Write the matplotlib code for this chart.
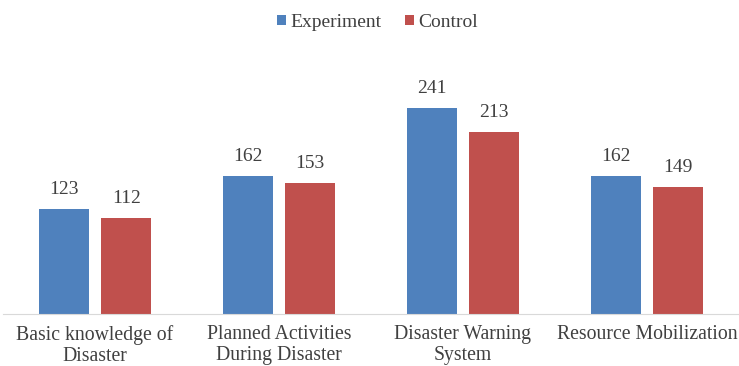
import numpy as np
import matplotlib.pyplot as plt

categories = ['Basic knowledge of\nDisaster', 'Planned Activities\nDuring Disaster',
              'Disaster Warning\nSystem', 'Resource Mobilization']
experiment = [123, 162, 241, 162]
control = [112, 153, 213, 149]

plt.rcParams['font.family'] = 'serif'
plt.rcParams['font.serif'] = ['Liberation Serif', 'DejaVu Serif']

fig = plt.figure(figsize=(7.39, 3.66), dpi=100)
ax = fig.add_axes([0.004, 0.142, 0.996, 0.70])

x = np.arange(len(categories))
w = 0.27
off = 0.17
b1 = ax.bar(x - off, experiment, w, color='#4F81BD', label='Experiment')
b2 = ax.bar(x + off, control, w, color='#C0504D', label='Control')

for bars, vals in ((b1, experiment), (b2, control)):
    for bar, v in zip(bars, vals):
        ax.annotate(str(v), (bar.get_x() + bar.get_width() / 2, v),
                    xytext=(0, 8), textcoords='offset points',
                    ha='center', va='bottom', fontsize=14, color='#404040')

ax.set_xlim(-0.5, 3.5)
ax.set_ylim(0, 300)
ax.set_xticks(x)
ax.set_xticklabels(categories, fontsize=14.2, color='#404040', linespacing=1.15)
ax.tick_params(axis='x', length=0, pad=8)
ax.set_yticks([])
for s in ('top', 'right', 'left'):
    ax.spines[s].set_visible(False)
ax.spines['bottom'].set_color('#D9D9D9')

fig.legend(loc='upper center', bbox_to_anchor=(0.511, 1.01), ncol=2, frameon=False,
           fontsize=14, handlelength=0.45, handleheight=0.45, handletextpad=0.25,
           columnspacing=1.2, labelcolor='#404040')

fig.savefig('out.png', dpi=100)
